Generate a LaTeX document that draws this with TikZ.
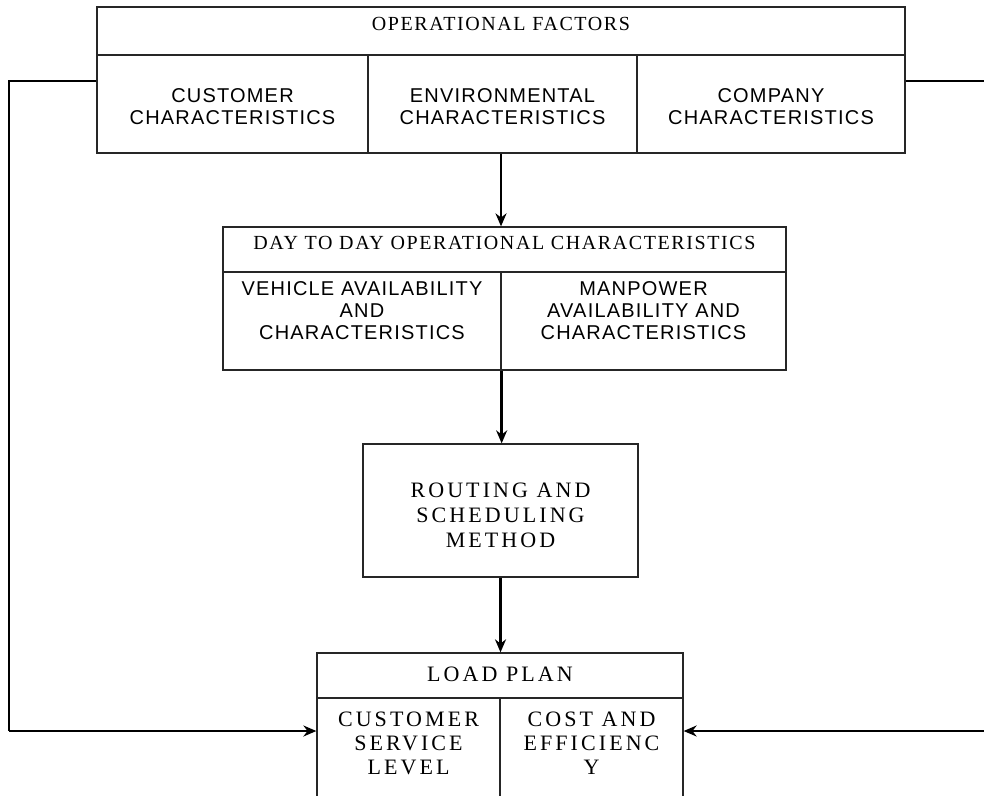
\documentclass[tikz,border=0pt]{standalone}
\usepackage{fontspec}
\usetikzlibrary{arrows.meta}
\newfontfamily\boxserif[LetterSpace=14]{Liberation Serif}
\newfontfamily\headserif[LetterSpace=8]{Liberation Serif}
\newfontfamily\boxsans[LetterSpace=6]{Liberation Sans}

\begin{document}
\begin{tikzpicture}[x=1pt,y=-1pt,
  frame/.style={draw=black!85, line width=1.3pt, inner sep=0pt, minimum width=#1},
  frame/.default=10pt,
  sanstxt/.style={inner sep=0pt, align=center, font=\boxsans\fontsize{20}{22}\selectfont},
  headtxt/.style={inner sep=0pt, align=center, font=\headserif\fontsize{20}{22}\selectfont},
  seriftxt/.style={inner sep=0pt, align=center, font=\boxserif\fontsize{22}{24}\selectfont},
  conn/.style={draw=black, line width=2pt},
  arr/.style={draw=black, line width=2.4pt, -{Stealth[length=13pt,width=11pt]}}
]
\clip (0,0) rectangle (984,795);

% --- operational factors block
\node[frame=808pt, minimum height=48pt] (opf) at (501,31) {};
\node[frame=271pt, minimum height=98pt] (cust) at (232.5,104) {};
\node[frame=269pt, minimum height=98pt] (env) at (502.5,104) {};
\node[frame=268pt, minimum height=98pt] (comp) at (771,104) {};
\node[headtxt] (opft) at (501,24) {OPERATIONAL FACTORS};
\node[sanstxt] (custt) at (232.5,106.5) {CUSTOMER\\CHARACTERISTICS};
\node[sanstxt] (envt) at (502.5,106.5) {ENVIRONMENTAL\\CHARACTERISTICS};
\node[sanstxt] (compt) at (771,106.5) {COMPANY\\CHARACTERISTICS};

% --- day to day block
\node[frame=563pt, minimum height=45pt] (day) at (504.5,249.5) {};
\node[frame=278pt, minimum height=98pt] (veh) at (362,321) {};
\node[frame=285pt, minimum height=98pt] (man) at (643.5,321) {};
\node[headtxt] (dayt) at (504.5,243) {DAY TO DAY OPERATIONAL CHARACTERISTICS};
\node[sanstxt] (veht) at (362,311) {VEHICLE AVAILABILITY\\AND\\CHARACTERISTICS};
\node[sanstxt] (mant) at (643.5,311) {MANPOWER\\AVAILABILITY AND\\CHARACTERISTICS};

% --- routing and scheduling
\node[frame=275pt, minimum height=133pt] (rout) at (500.5,510.5) {};
\node[seriftxt, font=\boxserif\fontsize{22}{25}\selectfont] (routt) at (500.5,515) {ROUTING AND\\SCHEDULING\\METHOD};

% --- load plan
\node[frame=366pt, minimum height=45pt] (load) at (500,675.5) {};
\node[frame=183pt, minimum height=110pt] (serv) at (408.5,753) {};
\node[frame=183pt, minimum height=110pt] (cost) at (591.5,753) {};
\node[seriftxt] (loadt) at (500,674) {LOAD PLAN};
\node[seriftxt] (servt) at (408.5,743) {CUSTOMER\\SERVICE\\LEVEL};
\node[seriftxt] (costt) at (591.5,743) {COST AND\\EFFICIENC\\Y};

% --- vertical flow
\draw[arr] (env.south -| opf.south) -- (opf.south |- day.north);
\draw[arr] (veh.south east) -- (veh.south east |- rout.north);
\draw[arr] (rout.south) -- (rout.south |- load.north);

% --- feedback lines into the load plan
\coordinate (lt) at (9,81);
\coordinate (lb) at (9,731);
\coordinate (rt) at (992,81);
\coordinate (rb) at (992,731);
\draw[conn] (cust.west |- lt) -- (lt) -- (lb);
\draw[arr, line width=2pt] (lb) -- (lb -| serv.west);
\draw[conn] (comp.east |- rt) -- (rt) -- (rb);
\draw[arr, line width=2pt] (rb) -- (rb -| cost.east);
\end{tikzpicture}
\end{document}
